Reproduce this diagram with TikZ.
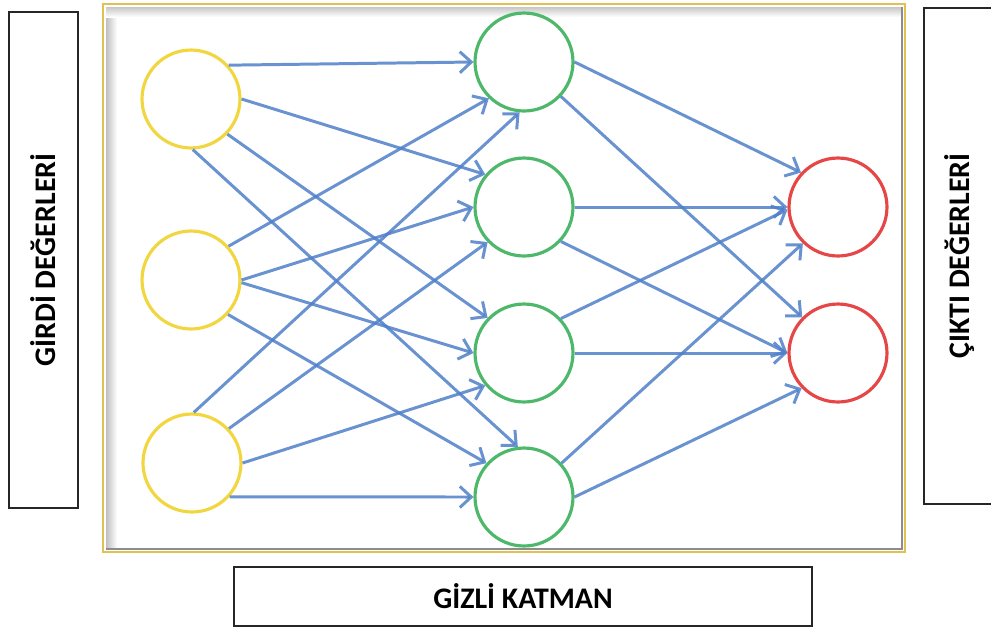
\documentclass[tikz,border=0pt]{standalone}
\usepackage{fontspec}
\setmainfont{Carlito}
\usetikzlibrary{arrows.meta}
\definecolor{inyellow}{HTML}{F2D640}
\definecolor{hidgreen}{HTML}{4DB86A}
\definecolor{outred}{HTML}{E64646}
\definecolor{linkblue}{HTML}{4F7FC9}
\definecolor{framegold}{HTML}{E2C052}

\begin{document}
\begin{tikzpicture}[
    x=0.02cm, y=-0.02cm,
    every node/.style={font=\bfseries\fontsize{17}{20}\selectfont},
    neuron/.style={circle, fill=white, line width=1.8pt, minimum size=1.96cm, inner sep=0pt},
    inp/.style={neuron, draw=inyellow},
    hid/.style={neuron, draw=hidgreen},
    outp/.style={neuron, draw=outred},
    lblbox/.style={rectangle, draw=black!85, line width=0.9pt, fill=white, align=center},
    arr/.style={-{Straight Barb[length=6.5pt, width=12pt]}, line width=1.7pt,
                color=linkblue, draw opacity=0.85},
]
\useasboundingbox (0,0) rectangle (991,630);

% ================================================================ frame
\draw[framegold, line width=1.5pt] (103,4) rectangle (905,552);
\shade[left color=black!25, right color=white] (106,7) rectangle (117,549);
\shade[top color=black!22, bottom color=white] (106,7) rectangle (902,17);
\draw[black!45, line width=0.8pt] (106,549) -- (902,549) -- (902,7);

% ================================================================ layers
\node[inp] (i1) at (191,99)  {};
\node[inp] (i2) at (191,280) {};
\node[inp] (i3) at (192,463) {};

\node[hid] (h1) at (524,62)  {};
\node[hid] (h2) at (524,207) {};
\node[hid] (h3) at (524,353) {};
\node[hid] (h4) at (524,497) {};

\node[outp] (o1) at (838,207) {};
\node[outp] (o2) at (838,353) {};

% input -> hidden
\foreach \a/\b/\s/\t in {i1/h1/42/180, i1/h2/0/140, i1/h3/316/136, i1/h4/272/97,
                         i2/h1/42/226, i2/h2/0/180, i2/h3/357/180, i2/h4/317/138,
                         i3/h1/88/265, i3/h2/43/224, i3/h3/0/220, i3/h4/318/180}{
    \draw[arr] (\a.\s) -- (\b.\t);
}
% hidden -> output
\foreach \a/\b/\s/\t in {h1/o1/0/137, h1/o2/317/135, h2/o1/0/180, h2/o2/317/180,
                         h3/o1/43/183, h3/o2/0/180, h4/o1/42/226, h4/o2/0/224}{
    \draw[arr] (\a.\s) -- (\b.\t);
}

% ================================================================ labels
\node[lblbox, rotate=90, minimum width=9.92cm, minimum height=1.38cm]
    (girdi) at (43.5,260) {GİRDİ DEĞERLERİ};
\node[lblbox, rotate=90, minimum width=9.92cm, minimum height=1.44cm]
    (cikti) at (960,256) {ÇIKTI DEĞERLERİ};
\node[lblbox, minimum width=11.56cm, minimum height=1.18cm]
    (gizli) at (523,596.5) {GİZLİ KATMAN};
\end{tikzpicture}
\end{document}
